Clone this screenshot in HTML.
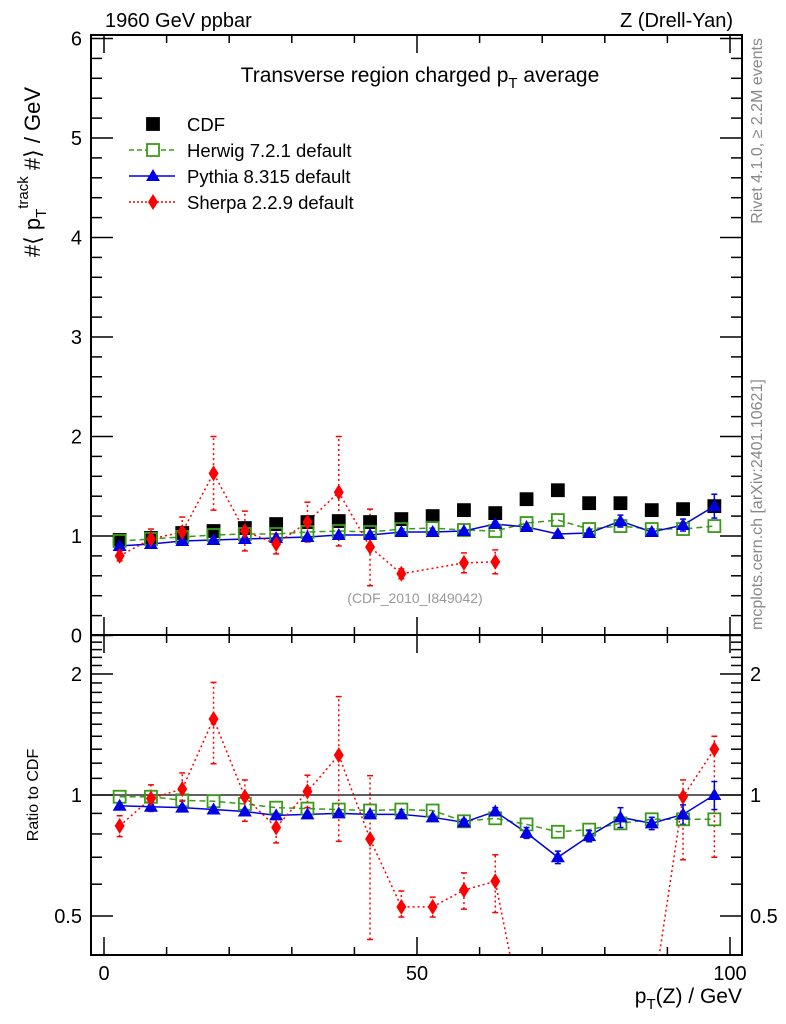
<!DOCTYPE html>
<html><head><meta charset="utf-8"><style>
body{margin:0;background:#fff;}
svg{display:block;font-family:"Liberation Sans",sans-serif;}
</style></head><body>
<svg id="chart" width="786" height="1024" xmlns="http://www.w3.org/2000/svg">
<rect width="786" height="1024" fill="#fff"/>
<text x="105" y="27" font-size="20">1960 GeV ppbar</text>
<text x="733" y="27" font-size="20" text-anchor="end">Z (Drell-Yan)</text>
<text x="420" y="82" font-size="21" text-anchor="middle">Transverse region charged p<tspan font-size="15" dy="6">T</tspan><tspan dy="-6"> average</tspan></text>
<text transform="translate(40,172) rotate(-90)" font-size="22" text-anchor="middle">#⟨ p<tspan font-size="15" dy="6">T</tspan><tspan font-size="15" dy="-18">track</tspan><tspan dy="12"> #⟩ / GeV</tspan></text>
<text transform="translate(38,795) rotate(-90)" font-size="16" text-anchor="middle">Ratio to CDF</text>
<text x="742" y="1003" font-size="21" text-anchor="end">p<tspan font-size="15" dy="6">T</tspan><tspan dy="-6">(Z) / GeV</tspan></text>
<text transform="translate(762,38) rotate(-90)" font-size="16" fill="#888" text-anchor="end">Rivet 4.1.0, ≥ 2.2M events</text>
<text transform="translate(762,630) rotate(-90)" font-size="16" fill="#888">mcplots.cern.ch [arXiv:2401.10621]</text>
<text x="415" y="603" font-size="14" fill="#999" text-anchor="middle">(CDF_2010_I849042)</text>
<g id="axes"></g>
<g id="marks"></g>
<g id="legend"></g>
</svg>
<script>
const bins=[2.5,7.5,12.5,17.5,22.5,27.5,32.5,37.5,42.5,47.5,52.5,57.5,62.5,67.5,72.5,77.5,82.5,87.5,92.5,97.5];
const cdfVals=[0.96,0.98,1.03,1.05,1.08,1.12,1.14,1.15,1.14,1.17,1.20,1.26,1.23,1.37,1.46,1.33,1.33,1.26,1.27,1.30];
const herwigVals=[0.95,0.97,0.99,1.01,1.02,1.02,1.04,1.05,1.04,1.07,1.08,1.06,1.05,1.13,1.16,1.07,1.10,1.07,1.07,1.10];
const pythiaVals=[0.90,0.92,0.95,0.96,0.97,0.98,0.99,1.01,1.01,1.04,1.04,1.05,1.12,1.09,1.02,1.03,1.15,1.04,1.11,1.30];
const pythiaErr=[0.01,0.01,0.01,0.01,0.01,0.01,0.01,0.01,0.01,0.01,0.01,0.01,0.02,0.02,0.02,0.03,0.06,0.03,0.06,0.12];
const sherpaVals=[0.80,0.97,1.04,1.63,1.05,0.92,1.14,1.44,0.89,0.62,null,0.73,0.74,null,null,null,null,null,null,null];
const sherpaLo=[0.05,0.08,0.1,0.37,0.2,0.1,0.2,0.54,0.39,0.05,0,0.1,0.12,0,0,0,0,0,0,0];
const sherpaHi=[0.05,0.1,0.15,0.37,0.2,0.1,0.2,0.56,0.38,0.05,0,0.1,0.12,0,0,0,0,0,0,0];
const herwigRatio=[0.99,0.99,0.97,0.965,0.95,0.93,0.925,0.92,0.915,0.92,0.915,0.86,0.875,0.845,0.81,0.82,0.85,0.87,0.87,0.87];
const pythiaRatio=[0.94,0.935,0.93,0.92,0.91,0.89,0.895,0.90,0.895,0.895,0.88,0.855,0.91,0.805,0.70,0.79,0.88,0.85,0.895,1.0];
const pythiaRatioErr=[0.01,0.01,0.01,0.01,0.01,0.01,0.01,0.01,0.01,0.01,0.01,0.015,0.02,0.025,0.025,0.025,0.05,0.03,0.05,0.08];
const sherpaRatio=[0.838,0.98,1.035,1.546,0.99,0.83,1.02,1.257,0.777,0.527,0.527,0.58,0.61,0.25,0.25,0.25,0.25,0.3,0.99,1.30];
const sherpaRatioLo=[0.05,0.07,0.07,0.35,0.13,0.07,0.09,0.49,0.34,0.03,0.03,0.06,0.1,0,0,0,0,0,0.3,0.6];
const sherpaRatioHi=[0.05,0.08,0.1,0.36,0.1,0.06,0.1,0.5,0.34,0.05,0.03,0.06,0.1,0,0,0,0,0,0.1,0.1];
const xTicks=[0,50,100];
const yTicks=[0,1,2,3,4,5,6];
const rTicks=[0.5,1,2];

const NS='http://www.w3.org/2000/svg';
const L=91,R=742,T=35,MB=635,B=955;
const X=v=>104+6.26*v;
const Y=v=>635.5-99.5*v;
const RY=r=>795-121*Math.log2(r);
function el(tag,attrs,parent){const e=document.createElementNS(NS,tag);for(const k in attrs)e.setAttribute(k,attrs[k]);parent.appendChild(e);return e;}
const axes=document.getElementById('axes'),marks=document.getElementById('marks'),leg=document.getElementById('legend');

let f1=el('rect',{x:L,y:T,width:R-L,height:MB-T,fill:'none',stroke:'#000','stroke-width':2},axes);

let f2=el('rect',{x:L,y:MB,width:R-L,height:B-MB,fill:'none',stroke:'#000','stroke-width':2},axes);

let ref=el('line',{x1:L,x2:R,y1:RY(1),y2:RY(1),stroke:'#000','stroke-width':1.2},axes);


for(let v=0;v<=100;v+=10){
  const major=v%50===0, len=major?18:8;
  for(const [yb,yt] of [[MB,T],[B,MB]]){
    el('line',{x1:X(v),x2:X(v),y1:yb,y2:yb-len,stroke:'#000','stroke-width':1.5},axes);
    el('line',{x1:X(v),x2:X(v),y1:yt,y2:yt+len,stroke:'#000','stroke-width':1.5},axes);
  }
}
xTicks.forEach(v=>{const t=el('text',{x:X(v),y:980,'font-size':20,'text-anchor':'middle'},axes);t.textContent=v;
});
for(let i=0;i<=30;i++){const v=i*0.2,len=i%5===0?22:11;
  el('line',{x1:L,x2:L+len,y1:Y(v),y2:Y(v),stroke:'#000','stroke-width':1.5},axes);
  el('line',{x1:R,x2:R-len,y1:Y(v),y2:Y(v),stroke:'#000','stroke-width':1.5},axes);}
yTicks.forEach(v=>{const t=el('text',{x:82,y:Y(v)+7,'font-size':20,'text-anchor':'end'},axes);t.textContent=v;
});
const rMinor=[0.4,0.5,0.6,0.7,0.8,0.9,1,1.1,1.2,1.3,1.4,1.5,1.6,1.7,1.8,1.9,2,2.1,2.2,2.3,2.4];
rMinor.forEach(r=>{const y=RY(r);if(y<MB||y>B)return;const len=rTicks.includes(r)?22:11;
  el('line',{x1:L,x2:L+len,y1:y,y2:y,stroke:'#000','stroke-width':1.5},axes);
  el('line',{x1:R,x2:R-len,y1:y,y2:y,stroke:'#000','stroke-width':1.5},axes);});
rTicks.forEach(r=>{const t=el('text',{x:82,y:RY(r)+7,'font-size':20,'text-anchor':'end'},axes);t.textContent=r;

const t2=el('text',{x:750,y:RY(r)+7,'font-size':20},axes);t2.textContent=r;
});

const defs=el('defs',{},marks);
const c1=el('clipPath',{id:'cm'},defs);el('rect',{x:L,y:T,width:R-L,height:MB-T},c1);
const c2=el('clipPath',{id:'cr'},defs);el('rect',{x:L,y:MB,width:R-L,height:B-MB},c2);
const gm=el('g',{'clip-path':'url(#cm)'},marks),gr=el('g',{'clip-path':'url(#cr)'},marks);

function poly(g,vals,yf,color,dash,name){
  let cur=[];
  vals.forEach((v,i)=>{if(v==null)return;cur.push(X(bins[i])+','+yf(v));});
  const p=el('polyline',{points:cur.join(' '),fill:'none',stroke:color,'stroke-width':1.5,'stroke-dasharray':dash||'none'},g);
  
}
function errs(g,vals,lo,hi,yf,color,dash,name){
  vals.forEach((v,i)=>{if(v==null||!lo[i])return;const x=X(bins[i]);
    const e=el('line',{x1:x,x2:x,y1:yf(Math.max(v-lo[i],0.01)),y2:yf(v+hi[i]),stroke:color,'stroke-width':1.5,'stroke-dasharray':dash||'none'},g);
    
    [v-lo[i],v+hi[i]].forEach(w=>{if(w<=0.01)return;el('line',{x1:x-3,x2:x+3,y1:yf(w),y2:yf(w),stroke:color,'stroke-width':1.5},g);});
  });
}
function sq(g,x,y,fill,stroke,name){const s=el('rect',{x:x-6,y:y-6,width:12,height:12,fill:fill,stroke:stroke,'stroke-width':1.8},g);
  }
function tri(g,x,y,name){const t=el('polygon',{points:`${x},${y-7} ${x-7},${y+5} ${x+7},${y+5}`,fill:'#0000e6'},g);
  }
function dia(g,x,y,name){const d=el('polygon',{points:`${x},${y-8} ${x-5},${y} ${x},${y+8} ${x+5},${y}`,fill:'#f00'},g);
  }

poly(gm,herwigVals,Y,'#3a9a1a','6,4','herwig-line');
poly(gm,pythiaVals,Y,'#0000e6',null,'pythia-line');
poly(gm,sherpaVals,Y,'#f00','2,3','sherpa-line');
errs(gm,sherpaVals,sherpaLo,sherpaHi,Y,'#f00','2,3','sherpa-error');
errs(gm,pythiaVals,pythiaErr,pythiaErr,Y,'#0000e6',null,'pythia-error');
cdfVals.forEach((v,i)=>sq(gm,X(bins[i]),Y(v),'#000','#000','cdf-point'));
herwigVals.forEach((v,i)=>sq(gm,X(bins[i]),Y(v),'none','#3a9a1a','herwig-point'));
pythiaVals.forEach((v,i)=>tri(gm,X(bins[i]),Y(v),'pythia-point'));
sherpaVals.forEach((v,i)=>{if(v!=null)dia(gm,X(bins[i]),Y(v),'sherpa-point');});

poly(gr,herwigRatio,RY,'#3a9a1a','6,4','herwig-ratio-line');
poly(gr,pythiaRatio,RY,'#0000e6',null,'pythia-ratio-line');
poly(gr,sherpaRatio,RY,'#f00','2,3','sherpa-ratio-line');
errs(gr,sherpaRatio,sherpaRatioLo,sherpaRatioHi,RY,'#f00','2,3','sherpa-ratio-error');
errs(gr,pythiaRatio,pythiaRatioErr,pythiaRatioErr,RY,'#0000e6',null,'pythia-ratio-error');
herwigRatio.forEach((v,i)=>sq(gr,X(bins[i]),RY(v),'none','#3a9a1a','herwig-ratio-point'));
pythiaRatio.forEach((v,i)=>tri(gr,X(bins[i]),RY(v),'pythia-ratio-point'));
sherpaRatio.forEach((v,i)=>dia(gr,X(bins[i]),RY(v),'sherpa-ratio-point'));

const names=['CDF','Herwig 7.2.1 default','Pythia 8.315 default','Sherpa 2.2.9 default'];
names.forEach((n,i)=>{const y=124+26*i;
  const g=el('g',{},leg);
  
  if(i===0)sq(g,153,y,'#000','#000','legend-cdf-marker');
  if(i===1){el('line',{x1:129,x2:175,y1:y,y2:y,stroke:'#3a9a1a','stroke-width':1.5,'stroke-dasharray':'5,3'},g);sq(g,153,y,'#fff','#3a9a1a','legend-herwig-marker');}
  if(i===2){el('line',{x1:129,x2:175,y1:y,y2:y,stroke:'#0000e6','stroke-width':1.5},g);tri(g,153,y,'legend-pythia-marker');}
  if(i===3){el('line',{x1:129,x2:175,y1:y,y2:y,stroke:'#f00','stroke-width':1.5,'stroke-dasharray':'2,2'},g);dia(g,153,y,'legend-sherpa-marker');}
  const t=el('text',{x:187,y:y+7,'font-size':18.5},g);t.textContent=n;
});
</script>
</body></html>
